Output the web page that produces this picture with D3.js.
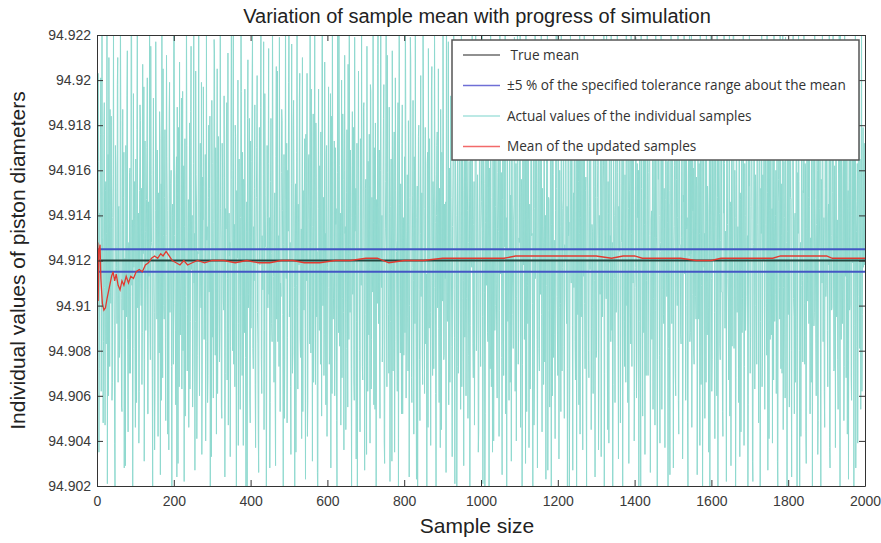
<!DOCTYPE html>
<html>
<head>
<meta charset="utf-8">
<script src="https://cdn.jsdelivr.net/npm/d3@7"></script>
<style>
  body { margin: 0; background: #fff; }
  svg { display: block; }
</style>
</head>
<body>
<div id="chart"></div>
<script>
// tick labels
const xTicks = [0, 200, 400, 600, 800, 1000, 1200, 1400, 1600, 1800, 2000];
const yTicks = [94.902, 94.904, 94.906, 94.908, 94.91, 94.912, 94.914, 94.916, 94.918, 94.92, 94.922];

const trueMean = 94.912;
const bandLow = 94.9115;
const bandHigh = 94.9125;

// individual samples, in units of 0.0001 mm above 94.9 mm
// odd-numbered samples (1, 3, 5, ...)
const oddSamples = [
  98, 203, 35, 141, 176, 62, 228, 119, 84, 190, 47, 155, 132, 21, 167, 210, 73, 106, 184, 58,
  139, 225, 91, 12, 162, 117, 198, 66, 144, 79, 231, 103, 53, 187, 148, 28, 121, 171, 95, 213,
  44, 128, 159, 70, 236, 109, 18, 194, 136, 82, 165, 57, 220, 115, 39, 151, 182, 100, 65, 207,
  124, 31, 173, 89, 147, 201, 52, 113, 239, 76, 158, 126, 15, 192, 97, 61, 217, 134, 169, 42,
  107, 186, 25, 154, 223, 68, 131, 94, 178, 49, 211, 142, 81, 36, 199, 120, 160, 9, 145, 74,
  229, 101, 56, 166, 188, 30, 137, 208, 87, 116, 63, 195, 150, 22, 174, 104, 234, 71, 129, 46,
  181, 93, 215, 138, 55, 163, 110, 27, 204, 146, 78, 123, 241, 60, 172, 99, 34, 157, 197, 85,
  118, 40, 226, 135, 69, 180, 152, 14, 112, 191, 86, 59, 218, 127, 170, 43, 205, 96, 149, 75,
  237, 130, 50, 161, 102, 193, 24, 143, 177, 67, 212, 88, 122, 33, 185, 156, 80, 224, 108, 64,
  175, 16, 140, 200, 92, 125, 54, 232, 114, 168, 38, 153, 196, 77, 133, 20, 209, 105, 183, 48,
  90, 164, 221, 72, 111, 189, 37, 148, 202, 83, 26, 179, 134, 242, 61, 117, 158, 45, 194, 126,
  11, 171, 99, 214, 139, 57, 183, 92, 230, 118, 66, 150, 29, 206, 163, 84, 131, 219, 53, 104,
  187, 142, 19, 167, 76, 235, 112, 48, 160, 199, 95, 128, 34, 216, 70, 180, 145, 7, 154, 109,
  227, 63, 137, 192, 86, 119, 41, 210, 151, 98, 174, 23, 136, 203, 58, 165, 114, 238, 79, 146,
  31, 185, 106, 222, 65, 157, 124, 13, 196, 89, 141, 177, 51, 233, 100, 69, 208, 132, 168, 42,
  121, 197, 74, 153, 28, 184, 240, 94, 115, 60, 170, 143, 17, 225, 88, 162, 127, 47, 200, 103,
  156, 36, 211, 135, 81, 178, 55, 123, 243, 97, 149, 20, 186, 110, 67, 219, 140, 32, 172, 91,
  204, 118, 44, 164, 228, 73, 138, 190, 27, 152, 101, 215, 62, 130, 176, 39, 195, 85, 113, 231,
  56, 147, 181, 16, 125, 207, 92, 169, 50, 236, 108, 75, 158, 198, 30, 134, 220, 64, 159, 96,
  188, 22, 144, 116, 213, 71, 161, 35, 201, 129, 87, 173, 10, 223, 105, 154, 52, 189, 120, 78,
  166, 239, 59, 133, 95, 182, 24, 148, 209, 68, 117, 191, 43, 160, 226, 82, 139, 18, 175, 107,
  49, 202, 126, 80, 234, 150, 61, 179, 102, 14, 168, 214, 90, 131, 38, 196, 111, 155, 72, 230,
  137, 8, 171, 99, 205, 57, 122, 187, 45, 162, 241, 76, 145, 112, 26, 183, 93, 217, 128, 66,
  193, 115, 33, 157, 224, 86, 176, 140, 19, 200, 70, 127, 169, 54, 237, 103, 151, 29, 185, 97,
  60, 212, 142, 78, 164, 5, 190, 119, 227, 83, 136, 47, 178, 210, 91, 158, 35, 124, 199, 73,
  146, 231, 21, 167, 106, 52, 216, 133, 88, 180, 12, 153, 243, 64, 121, 195, 40, 172, 100, 208,
  79, 134, 186, 42, 222, 114, 159, 25, 197, 69, 141, 233, 94, 17, 174, 125, 58, 206, 149, 31,
  184, 96, 138, 219, 62, 163, 104, 238, 74, 130, 192, 46, 156, 11, 203, 118, 85, 170, 229, 53,
  109, 177, 37, 145, 90, 211, 132, 15, 182, 67, 240, 123, 154, 28, 198, 81, 161, 105, 221, 44,
  135, 65, 194, 116, 23, 173, 226, 98, 147, 55, 188, 13, 166, 214, 77, 129, 41, 201, 152, 87,
  220, 32, 160, 101, 236, 71, 143, 179, 50, 120, 208, 92, 18, 175, 137, 63, 232, 110, 189, 27,
  150, 202, 84, 127, 9, 165, 197, 56, 224, 139, 95, 181, 36, 113, 244, 72, 157, 19, 186, 122,
  68, 171, 215, 45, 136, 99, 230, 153, 24, 193, 80, 148, 207, 61, 126, 176, 33, 218, 107, 162,
  14, 190, 117, 241, 75, 155, 39, 184, 131, 223, 89, 6, 168, 140, 57, 204, 102, 235, 82, 144,
  199, 48, 128, 177, 20, 212, 93, 158, 66, 234, 115, 185, 30, 151, 97, 227, 73, 134, 170, 40,
  108, 219, 59, 163, 142, 12, 195, 86, 239, 121, 51, 180, 206, 34, 147, 111, 225, 69, 159, 191,
  26, 138, 85, 217, 103, 174, 47, 229, 130, 16, 167, 200, 78, 124, 242, 54, 183, 96, 152, 37,
  213, 119, 164, 7, 188, 71, 145, 236, 92, 178, 28, 135, 209, 60, 156, 100, 221, 43, 173, 127,
  83, 196, 32, 149, 226, 114, 58, 187, 139, 19, 169, 237, 88, 123, 46, 203, 161, 74, 214, 104,
  157, 25, 181, 94, 132, 244, 65, 166, 10, 198, 117, 50, 176, 220, 87, 143, 35, 192, 110, 230,
  62, 171, 129, 205, 41, 154, 98, 231, 18, 183, 141, 76, 210, 106, 53, 168, 240, 90, 133, 22,
  194, 112, 67, 222, 146, 29, 179, 125, 238, 81, 160, 15, 202, 97, 135, 57, 218, 150, 44, 186,
  103, 232, 38, 163, 89, 197, 120, 8, 175, 228, 70, 144, 190, 31, 115, 215, 63, 158, 99, 207,
  136, 48, 184, 11, 152, 241, 79, 127, 199, 54, 166, 101, 233, 27, 178, 142, 85, 212, 118, 39,
  170, 225, 93, 140, 61, 189, 17, 156, 108, 236, 72, 131, 203, 45, 164, 87, 219, 128, 6, 180,
  116, 55, 208, 147, 24, 172, 233, 95, 138, 66, 193, 13, 159, 221, 80, 124, 42, 200, 111, 151,
  239, 74, 161, 30, 185, 102, 148, 216, 52, 130, 177, 20, 206, 91, 243, 121, 60, 167, 34, 195,
  126, 182, 9, 155, 227, 84, 139, 46, 211, 109, 174, 64, 145, 234, 28, 187, 98, 150, 222, 71,
  162, 37, 198, 119, 76, 173, 240, 16, 134, 205, 92, 158, 49, 229, 113, 68, 191, 143, 23, 176,
  100, 215, 58, 169, 131, 7, 188, 224, 82, 146, 39, 201, 122, 165, 54, 235, 96, 179, 140, 118
];
// even-numbered samples (2, 4, 6, ...)
const evenSamples = [
  118, 164, 72, 139, 201, 95, 130, 48, 176, 108, 151, 83, 226, 124, 60, 145, 187, 101, 134, 66,
  158, 112, 39, 171, 127, 92, 210, 143, 77, 119, 182, 55, 136, 98, 168, 114, 29, 149, 193, 85,
  125, 70, 161, 104, 232, 138, 81, 117, 155, 46, 129, 178, 99, 141, 62, 189, 110, 152, 88, 123,
  197, 76, 133, 107, 170, 52, 146, 121, 91, 215, 128, 68, 160, 115, 36, 142, 181, 94, 126, 150,
  79, 174, 113, 58, 137, 205, 100, 148, 86, 131, 166, 43, 120, 185, 97, 154, 73, 140, 111, 238,
  131, 89, 156, 24, 122, 179, 64, 144, 103, 192, 118, 80, 162, 135, 51, 127, 171, 96, 147, 109,
  63, 186, 116, 140, 75, 221, 132, 93, 158, 41, 124, 169, 87, 145, 110, 199, 67, 138, 153, 102,
  167, 84, 129, 57, 148, 106, 184, 120, 33, 163, 95, 137, 212, 78, 125, 150, 61, 175, 114, 90,
  143, 55, 172, 119, 98, 157, 70, 134, 190, 112, 47, 141, 128, 82, 229, 104, 160, 74, 136, 180,
  92, 151, 121, 38, 165, 101, 139, 195, 69, 127, 156, 88, 117, 18, 146, 183, 99, 130, 59, 173,
  115, 200, 81, 135, 152, 65, 122, 170, 97, 44, 142, 118, 188, 76, 131, 107, 217, 89, 149, 126,
  71, 139, 163, 105, 28, 155, 123, 84, 178, 113, 137, 60, 166, 94, 204, 120, 73, 144, 110, 159,
  182, 96, 127, 50, 147, 116, 172, 86, 133, 241, 102, 64, 154, 125, 79, 191, 108, 140, 35, 168,
  99, 145, 118, 203, 77, 134, 161, 53, 123, 150, 90, 176, 111, 42, 138, 167, 83, 128, 196, 104,
  135, 66, 157, 112, 181, 95, 26, 143, 119, 162, 74, 130, 214, 100, 148, 87, 124, 56, 171, 117,
  153, 108, 78, 194, 129, 61, 146, 103, 173, 91, 136, 49, 159, 121, 224, 82, 141, 114, 68, 185,
  97, 160, 132, 45, 150, 116, 207, 85, 127, 169, 72, 139, 105, 179, 58, 133, 152, 93, 12, 144,
  126, 80, 174, 109, 142, 67, 188, 121, 96, 156, 34, 130, 164, 87, 117, 198, 63, 148, 106, 137,
  170, 54, 122, 147, 101, 233, 129, 75, 160, 112, 140, 89, 183, 40, 125, 155, 98, 211, 118, 70,
  141, 93, 165, 31, 134, 110, 177, 84, 151, 124, 62, 190, 106, 145, 79, 128, 172, 52, 139, 115,
  88, 187, 120, 158, 71, 136, 100, 219, 126, 57, 149, 111, 166, 92, 134, 23, 153, 118, 180, 76,
  132, 104, 150, 65, 196, 122, 143, 83, 114, 163, 46, 138, 174, 97, 127, 206, 69, 145, 108, 158,
  61, 140, 177, 113, 90, 152, 37, 129, 168, 102, 185, 78, 123, 146, 235, 94, 131, 56, 161, 119,
  148, 82, 135, 195, 107, 21, 157, 124, 73, 142, 115, 179, 98, 132, 64, 170, 111, 150, 86, 208,
  103, 167, 50, 128, 146, 91, 183, 117, 138, 68, 155, 105, 227, 80, 142, 125, 44, 164, 99, 134,
  176, 95, 121, 154, 14, 137, 109, 192, 84, 130, 161, 72, 148, 116, 35, 175, 127, 89, 144, 110,
  59, 159, 133, 98, 213, 120, 77, 147, 106, 171, 126, 52, 139, 188, 93, 118, 157, 66, 131, 199,
  114, 81, 145, 173, 103, 40, 136, 162, 88, 128, 220, 97, 150, 74, 123, 182, 108, 30, 141, 166,
  92, 138, 119, 63, 184, 131, 101, 156, 47, 143, 112, 178, 85, 134, 167, 71, 209, 125, 96, 152,
  128, 186, 75, 140, 109, 163, 27, 148, 120, 94, 193, 136, 60, 158, 115, 87, 142, 239, 104, 69,
  161, 99, 135, 53, 170, 117, 147, 82, 127, 201, 106, 144, 72, 131, 19, 160, 113, 178, 91, 137,
  108, 149, 67, 189, 124, 96, 155, 132, 43, 166, 120, 86, 216, 139, 101, 151, 58, 126, 175, 80,
  144, 116, 172, 90, 133, 61, 197, 111, 148, 77, 129, 162, 36, 140, 105, 187, 122, 95, 153, 230,
  70, 134, 103, 157, 45, 141, 180, 119, 84, 168, 128, 65, 146, 112, 202, 97, 135, 159, 32, 124,
  154, 89, 129, 176, 106, 150, 73, 137, 222, 100, 57, 143, 118, 165, 83, 132, 191, 110, 145, 62,
  117, 195, 78, 139, 160, 93, 126, 10, 152, 114, 171, 88, 136, 207, 69, 123, 149, 102, 175, 131,
  85, 142, 113, 54, 164, 130, 98, 186, 121, 76, 156, 140, 39, 128, 173, 107, 218, 92, 134, 147,
  166, 104, 137, 81, 151, 25, 145, 118, 178, 96, 125, 162, 70, 199, 111, 139, 58, 154, 127, 87,
  130, 174, 63, 146, 115, 190, 100, 134, 48, 157, 122, 84, 167, 236, 105, 142, 79, 120, 184, 94,
  152, 71, 127, 163, 38, 138, 109, 179, 91, 145, 132, 205, 66, 117, 153, 99, 128, 16, 169, 112,
  76, 158, 120, 97, 187, 135, 60, 148, 114, 171, 83, 129, 196, 106, 42, 141, 163, 90, 124, 213,
  136, 102, 170, 51, 144, 123, 82, 157, 228, 110, 139, 68, 160, 126, 95, 182, 33, 147, 116, 88,
  163, 125, 73, 140, 104, 192, 131, 56, 153, 118, 86, 176, 138, 22, 127, 166, 100, 149, 74, 208,
  110, 145, 184, 93, 132, 64, 158, 120, 99, 211, 136, 78, 150, 113, 41, 169, 126, 87, 143, 181,
  67, 137, 105, 160, 127, 31, 146, 175, 94, 121, 154, 70, 225, 108, 139, 59, 164, 115, 133, 96,
  189, 119, 148, 80, 138, 168, 103, 52, 141, 124, 198, 87, 132, 155, 11, 128, 109, 177, 75, 150,
  101, 163, 44, 134, 116, 185, 92, 144, 130, 66, 171, 122, 214, 97, 147, 83, 136, 160, 49, 125,
  143, 79, 156, 110, 201, 127, 62, 152, 104, 181, 89, 140, 118, 37, 165, 131, 99, 193, 114, 72,
  129, 173, 95, 138, 54, 159, 121, 231, 85, 146, 107, 167, 73, 134, 189, 112, 43, 151, 126, 98,
  157, 68, 140, 119, 178, 91, 147, 28, 133, 163, 104, 199, 81, 128, 150, 62, 142, 117, 172, 121
];

// running mean: [sample, value]
const runningMean = [
  [1, 94.9097], [2, 94.9128], [3, 94.9102], [5, 94.9124], [8, 94.9127], [10, 94.9112], [14, 94.9101],
  [18, 94.9098], [22, 94.9099], [26, 94.9103], [32, 94.9108], [38, 94.9113], [42, 94.9115], [46, 94.9111],
  [50, 94.9114], [55, 94.9109], [60, 94.9107], [65, 94.9111], [70, 94.9109], [76, 94.9113], [82, 94.9110],
  [88, 94.9113], [95, 94.9112], [102, 94.9115], [110, 94.9116], [118, 94.9115], [126, 94.9118], [134, 94.9119],
  [142, 94.9121], [150, 94.9122], [158, 94.9121], [166, 94.9123], [172, 94.9122], [180, 94.9124], [188, 94.9122],
  [196, 94.9120], [206, 94.9119], [216, 94.9118], [226, 94.9120], [236, 94.9118], [248, 94.9119], [262, 94.9120],
  [280, 94.9119], [300, 94.9120], [330, 94.9120], [360, 94.9119], [390, 94.9120], [420, 94.9119], [450, 94.9119],
  [480, 94.9120], [510, 94.9120], [540, 94.9119], [580, 94.9119], [620, 94.9120], [660, 94.9120], [700, 94.9121],
  [730, 94.9121], [760, 94.9119], [800, 94.9120], [850, 94.9120], [900, 94.9121], [940, 94.9121], [980, 94.9121],
  [1020, 94.9121], [1060, 94.9121], [1090, 94.9122], [1150, 94.9122], [1200, 94.9122], [1260, 94.9122],
  [1300, 94.9122], [1340, 94.9121], [1370, 94.9122], [1400, 94.9122], [1420, 94.9121], [1480, 94.9121],
  [1520, 94.9121], [1560, 94.9120], [1600, 94.9120], [1625, 94.9121], [1700, 94.9121], [1760, 94.9121],
  [1780, 94.9122], [1850, 94.9122], [1900, 94.9122], [1915, 94.9121], [2000, 94.9121]
];

const legendItems = [
  { label: ' True mean', color: '#6b6b6b' },
  { label: '\u00b15 % of the specified tolerance range about the mean', color: '#6f6fd6' },
  { label: 'Actual values of the individual samples', color: '#a6e2dc' },
  { label: 'Mean of the updated samples', color: '#f26a6a' }
];

const W = 881, H = 543;
const margin = { top: 35, right: 16, bottom: 57, left: 97 };
const width = W - margin.left - margin.right;
const height = H - margin.top - margin.bottom;
const font = 'Arial, "Liberation Sans", sans-serif';

const svg = d3.select('#chart').append('svg')
  .attr('width', W)
  .attr('height', H);

const g = svg.append('g')
  .attr('transform', `translate(${margin.left},${margin.top})`);

const x = d3.scaleLinear().domain([0, 2000]).range([0, width]);
const y = d3.scaleLinear().domain([94.902, 94.922]).range([height, 0]);

svg.append('defs').append('clipPath').attr('id', 'plot-clip')
  .append('rect').attr('width', width).attr('height', height);

const plot = g.append('g').attr('clip-path', 'url(#plot-clip)');

// put samples back in order 1, 2, 3, ...
const samples = d3.zip(oddSamples, evenSamples).flat()
  .map((v, i) => ({ n: i + 1, v: 94.9 + v / 10000 }));

plot.append('path')
  .datum(samples)
  .attr('d', d3.line().x(d => x(d.n)).y(d => y(d.v)))
  .attr('fill', 'none')
  .attr('stroke', '#8fd9cf')
  .attr('stroke-width', 1);

[bandHigh, bandLow].forEach(v => {
  plot.append('line')
    .attr('x1', 0).attr('x2', width)
    .attr('y1', y(v)).attr('y2', y(v))
    .attr('stroke', '#4356c4')
    .attr('stroke-width', 2);
});

plot.append('line')
  .attr('x1', 0).attr('x2', width)
  .attr('y1', y(trueMean)).attr('y2', y(trueMean))
  .attr('stroke', '#22463f')
  .attr('stroke-width', 2);

plot.append('path')
  .datum(runningMean)
  .attr('d', d3.line().x(d => x(d[0])).y(d => y(d[1])))
  .attr('fill', 'none')
  .attr('stroke', '#e23a30')
  .attr('stroke-width', 1.3);

// axes, MATLAB style box with inward ticks
const yFmt = d3.format('.3~f');
const axisStyle = sel => {
  sel.select('.domain').attr('stroke', '#333');
  sel.selectAll('.tick line').attr('stroke', '#333');
  sel.selectAll('text').attr('fill', '#3a3a3a').style('font-family', font).style('font-size', '14px');
};

g.append('g')
  .attr('transform', `translate(0,${height})`)
  .call(d3.axisBottom(x).tickValues(xTicks).tickFormat(d3.format('d')).tickSizeInner(-6).tickSizeOuter(0).tickPadding(10))
  .call(axisStyle);

g.append('g')
  .call(d3.axisTop(x).tickValues(xTicks).tickSizeInner(-6).tickSizeOuter(0).tickFormat(''))
  .call(axisStyle);

g.append('g')
  .call(d3.axisLeft(y).tickValues(yTicks).tickFormat(yFmt).tickSizeInner(-6).tickSizeOuter(0).tickPadding(6))
  .call(axisStyle);

g.append('g')
  .attr('transform', `translate(${width},0)`)
  .call(d3.axisRight(y).tickValues(yTicks).tickSizeInner(-6).tickSizeOuter(0).tickFormat(''))
  .call(axisStyle);

// titles
svg.append('text')
  .attr('x', 477).attr('y', 23)
  .attr('text-anchor', 'middle')
  .style('font-family', font).style('font-size', '20px').attr('fill', '#222')
  .text('Variation of sample mean with progress of simulation');

svg.append('text')
  .attr('x', 477).attr('y', 533)
  .attr('text-anchor', 'middle')
  .style('font-family', font).style('font-size', '21px').attr('fill', '#222')
  .text('Sample size');

svg.append('text')
  .attr('transform', `translate(25,${margin.top + height / 2}) rotate(-90)`)
  .attr('text-anchor', 'middle')
  .style('font-family', font).style('font-size', '21px').attr('fill', '#222')
  .text('Individual values of piston diameters');

// legend
const legend = svg.append('g').attr('transform', 'translate(452,40)');
legend.append('rect')
  .attr('width', 407).attr('height', 120)
  .attr('fill', '#fff')
  .attr('stroke', '#555')
  .attr('stroke-width', 1.5);

legendItems.forEach((d, i) => {
  const row = legend.append('g').attr('transform', `translate(0,${15 + i * 30.5})`);
  row.append('line')
    .attr('x1', 11).attr('x2', 48)
    .attr('stroke', d.color).attr('stroke-width', 1.5);
  row.append('text')
    .attr('x', 55).attr('y', 4.5)
    .style('font-family', '"Open Sans", sans-serif').style('font-size', '13.6px')
    .style('white-space', 'pre')
    .attr('fill', '#333')
    .text(d.label);
});
</script>
</body>
</html>
